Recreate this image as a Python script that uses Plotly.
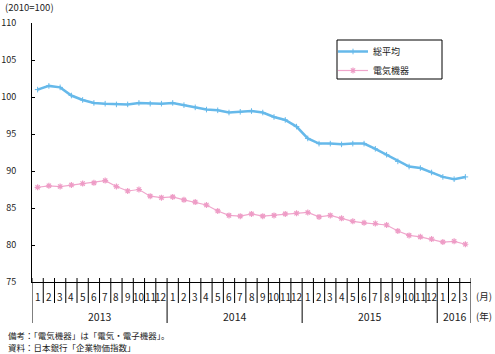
import plotly.graph_objects as go

months = ["1","2","3","4","5","6","7","8","9","10","11","12"] * 3 + ["1","2","3"]
years = ["2013", "2014", "2015", "2016"]
year_start_idx = [0, 12, 24, 36]
year_len = [12, 12, 12, 3]

avg_all = [101.0, 101.5, 101.3, 100.2, 99.6, 99.2, 99.1, 99.0, 99.0, 99.2, 99.1, 99.1,
           99.2, 98.9, 98.6, 98.3, 98.2, 97.9, 98.0, 98.1, 97.9, 97.3, 96.9, 96.0,
           94.4, 93.7, 93.7, 93.6, 93.7, 93.7, 93.0, 92.2, 91.3, 90.6, 90.4, 89.8,
           89.2, 88.9, 89.2]
elec = [87.8, 88.0, 87.9, 88.1, 88.3, 88.4, 88.7, 87.9, 87.3, 87.5, 86.6, 86.4,
        86.5, 86.1, 85.8, 85.4, 84.6, 84.0, 83.9, 84.2, 83.9, 84.0, 84.2, 84.3,
        84.4, 83.8, 84.0, 83.6, 83.2, 83.0, 82.9, 82.7, 81.9, 81.3, 81.1, 80.8,
        80.4, 80.5, 80.1]
series_names = ["総平均", "電気機器"]

x = list(range(len(avg_all)))
FONT = "Noto Sans CJK JP"

# pixel geometry helpers
W, H = 495, 354
L, R, T, B = 32, 24, 23, 72
pw, ph = W - L - R, H - T - B
def py(pix_y):  # pixel from top -> paper y
    return (H - B - pix_y) / ph
def px(pix_x):
    return (pix_x - L) / pw

fig = go.Figure()
fig.add_trace(go.Scatter(x=x, y=avg_all, name=series_names[0], mode="lines+markers",
                         line=dict(color="#66B9EA", width=2.5),
                         marker=dict(symbol="cross-thin", size=4, line=dict(color="#66B9EA", width=1)),
                         legendgroup="a"))
fig.add_trace(go.Scatter(x=x, y=elec, name=series_names[1], mode="lines+markers",
                         line=dict(color="#F0A6CC", width=1.2),
                         marker=dict(symbol="asterisk", size=5, line=dict(color="#EE9CC6", width=1.2)),
                         legendgroup="b"))

shapes = []
n = len(x)
# month dividers
for k in range(1, n):
    if k in year_start_idx:
        continue
    shapes.append(dict(type="line", xref="x", yref="paper", x0=k - 0.5, x1=k - 0.5,
                       y0=py(278), y1=py(303), line=dict(color="black", width=1)))
# year dividers
for k in year_start_idx + [n]:
    shapes.append(dict(type="line", xref="x", yref="paper", x0=k - 0.5, x1=k - 0.5,
                       y0=py(278), y1=py(323), line=dict(color="black", width=1)))
# legend box
shapes.append(dict(type="rect", xref="paper", yref="paper", x0=px(337), x1=px(442),
                   y0=py(79), y1=py(40), line=dict(color="black", width=1), fillcolor="rgba(0,0,0,0)"))

annotations = []
for i, m in enumerate(months):
    annotations.append(dict(x=i, y=py(296), xref="x", yref="paper", text=m, showarrow=False,
                            font=dict(family=FONT, size=10, color="#222"), xanchor="center", yanchor="middle"))
for yr, s, ln in zip(years, year_start_idx, year_len):
    annotations.append(dict(x=s + (ln - 1) / 2, y=py(316), xref="x", yref="paper", text=yr, showarrow=False,
                            font=dict(family=FONT, size=10.5, color="#222"), xanchor="center", yanchor="middle"))
annotations.append(dict(x=px(474), y=py(296), xref="paper", yref="paper", text="(月)", showarrow=False,
                        font=dict(family=FONT, size=9.5, color="#222"), xanchor="left", yanchor="middle"))
annotations.append(dict(x=px(474), y=py(316), xref="paper", yref="paper", text="(年)", showarrow=False,
                        font=dict(family=FONT, size=9.5, color="#222"), xanchor="left", yanchor="middle"))
annotations.append(dict(x=px(3), y=py(7), xref="paper", yref="paper", text="(2010=100)", showarrow=False,
                        font=dict(family=FONT, size=9.5, color="#222"), xanchor="left", yanchor="middle"))
annotations.append(dict(x=px(6), y=py(335), xref="paper", yref="paper", text="備考：「電気機器」は「電気・電子機器」。",
                        showarrow=False, font=dict(family=FONT, size=8.5, color="#222"), xanchor="left", yanchor="middle"))
annotations.append(dict(x=px(6), y=py(347), xref="paper", yref="paper", text="資料：日本銀行「企業物価指数」",
                        showarrow=False, font=dict(family=FONT, size=8.5, color="#222"), xanchor="left", yanchor="middle"))

fig.update_layout(
    width=W, height=H,
    margin=dict(l=L, r=R, t=T, b=B, pad=0, autoexpand=False),
    paper_bgcolor="white", plot_bgcolor="white",
    font=dict(family=FONT, size=10, color="#222"),
    showlegend=True,
    legend=dict(x=px(333), y=py(37), xanchor="left", yanchor="top", bgcolor="rgba(0,0,0,0)",
                borderwidth=0, font=dict(family=FONT, size=9, color="#222"),
                traceorder="grouped", tracegroupgap=0, itemwidth=30),
    xaxis=dict(range=[-0.5, n - 0.5], showline=True, linecolor="black", linewidth=1,
               showgrid=False, zeroline=False, showticklabels=False, ticks="", automargin=False),
    yaxis=dict(range=[75, 110], tickvals=[75, 80, 85, 90, 95, 100, 105, 110],
               showline=True, linecolor="black", linewidth=1, showgrid=False, zeroline=False,
               ticks="inside", ticklen=3, tickcolor="black", ticklabelstandoff=13, automargin=False,
               tickfont=dict(family=FONT, size=9, color="#222")),
    shapes=shapes, annotations=annotations,
)
fig.write_html("out.html")
